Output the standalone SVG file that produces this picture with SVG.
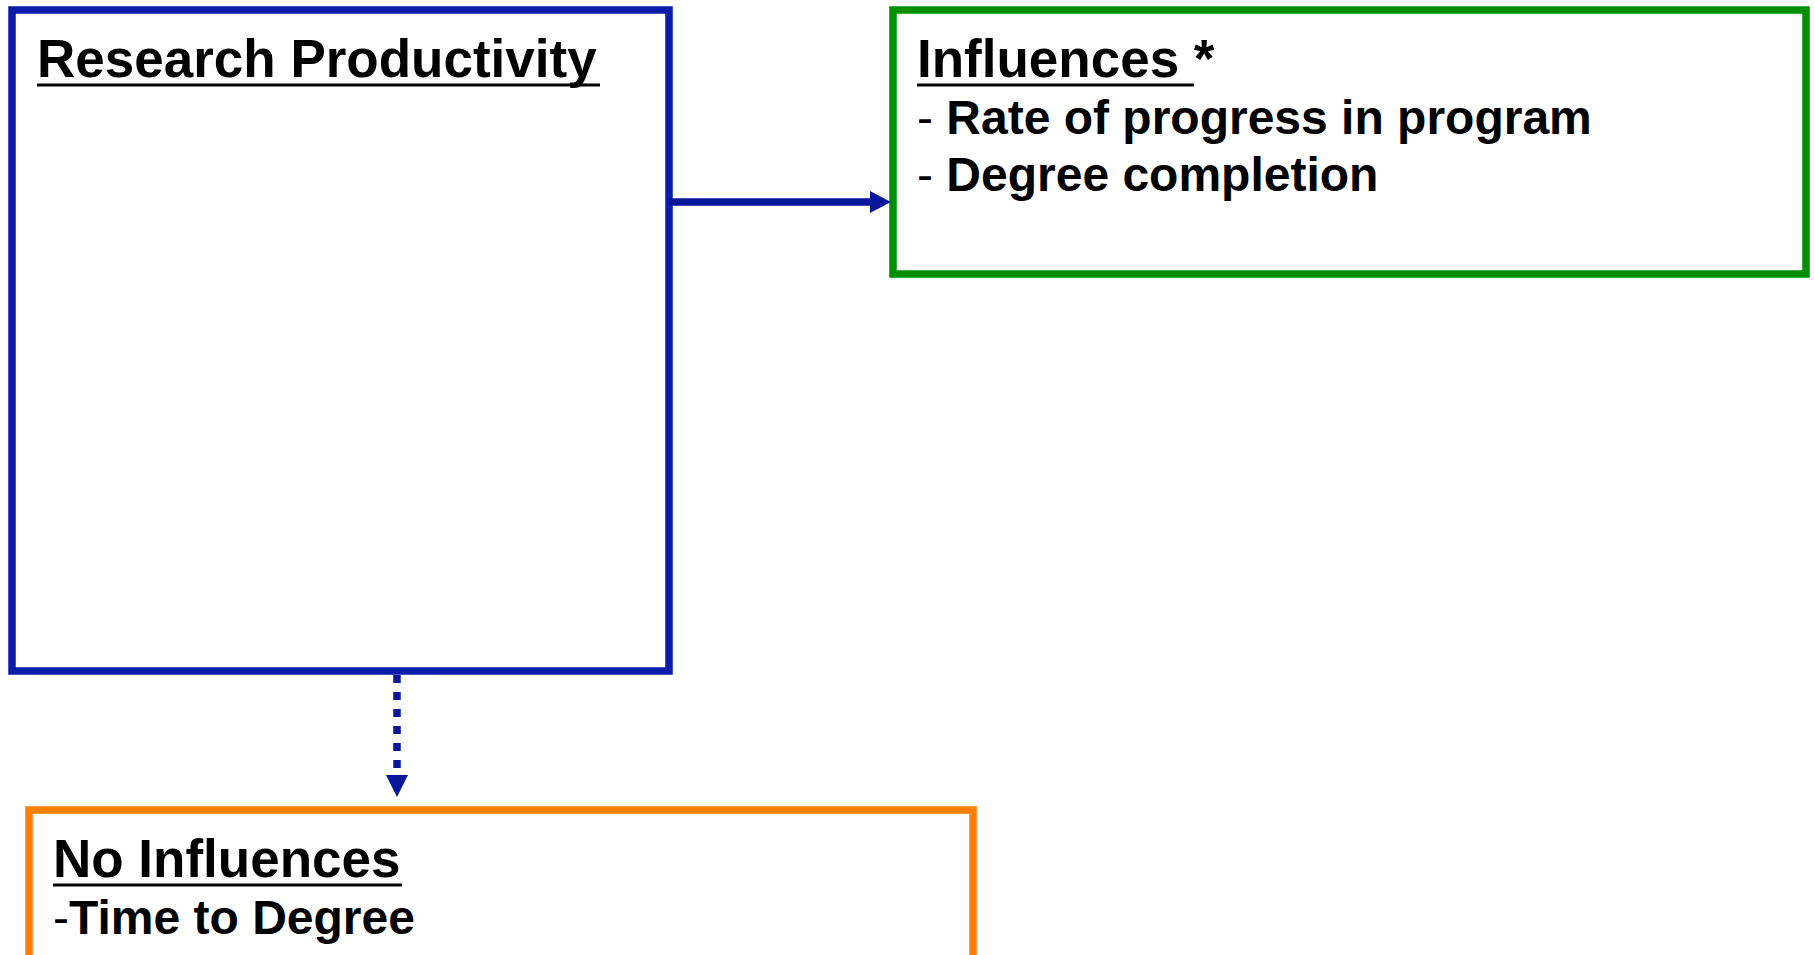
<svg xmlns="http://www.w3.org/2000/svg" width="1815" height="955" viewBox="0 0 1815 955">
<style>
.box{fill:#fff;stroke-width:7.5}
.h{font-family:"Liberation Sans",Arial,sans-serif;font-weight:bold;font-size:53px;fill:#000}
.b{font-family:"Liberation Sans",Arial,sans-serif;font-weight:bold;font-size:48px;fill:#000}
.d{font-weight:normal}
.ul{stroke:#000;stroke-width:3}
.conn{stroke:#08169A;stroke-width:7.5;fill:none}
</style>
<rect width="1815" height="955" fill="#fff"/>
<g id="research-productivity">
<rect class="box" x="12" y="10" width="657" height="661" stroke="#0A1CAA"/>
<text class="h" x="37" y="77">Research Productivity</text>
<line class="ul" x1="37" y1="85" x2="600" y2="85"/>
</g>
<g id="influences">
<rect class="box" x="893" y="10" width="913" height="264" stroke="#008F00"/>
<text class="h" x="917" y="77">Influences *</text>
<line class="ul" x1="917" y1="85" x2="1194" y2="85"/>
<text class="b" x="917" y="134"><tspan class="d">- </tspan>Rate of progress in program</text>
<text class="b" x="917" y="191"><tspan class="d">- </tspan>Degree completion</text>
</g>
<g id="no-influences">
<rect class="box" x="29" y="810" width="944" height="200" stroke="#FF8000"/>
<text class="h" x="53" y="877">No Influences</text>
<line class="ul" x1="53" y1="885" x2="402" y2="885"/>
<text class="b" x="53" y="934"><tspan class="d">-</tspan>Time to Degree</text>
</g>
<g id="connectors">
<line class="conn" x1="669" y1="202" x2="872" y2="202"/>
<polygon points="870,191 891,202 870,213" fill="#08169A"/>
<line class="conn" x1="397" y1="675" x2="397" y2="776" stroke-width="8" stroke-dasharray="8 9"/>
<polygon points="386,775 408,775 397,797" fill="#08169A"/>
</g>
</svg>
